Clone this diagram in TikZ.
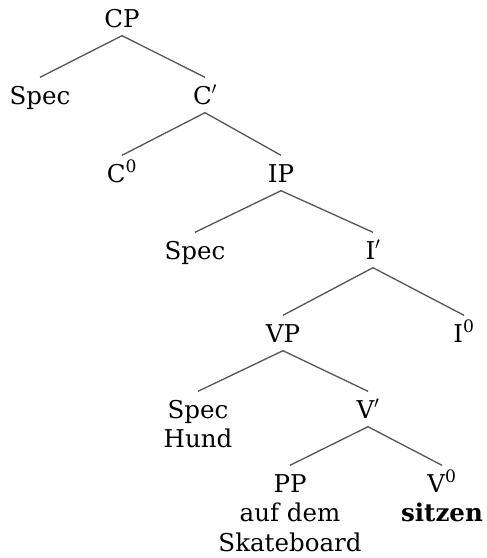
\documentclass[tikz,border=0pt]{standalone}
\usepackage{fontspec}
\setmainfont{DejaVu Serif}
\begin{document}
\begin{tikzpicture}[x=1pt,y=-1pt,
  tn/.style={anchor=base, inner xsep=0pt, inner ysep=8.5pt, text height=18pt, text depth=0pt,
    font=\fontsize{24.5}{29.5}\selectfont},
  edge/.style={draw={rgb,255:red,85;green,85;blue,85}, line width=1.3pt}]
\useasboundingbox (0,0) rectangle (487,558);
\node[tn] (cp) at (122,27) {CP};
\node[tn] (spec1) at (40,104) {Spec};
\node[tn] (cbar) at (205,104) {C$'$};
\node[tn] (c0) at (122,182) {C\textsuperscript{0}};
\node[tn] (ip) at (281,182) {IP};
\node[tn] (spec2) at (195,259) {Spec};
\node[tn] (ibar) at (373,259) {I$'$};
\node[tn] (vp) at (283,342) {VP};
\node[tn] (i0) at (464,342) {I\textsuperscript{0}};
\node[tn] (spec3) at (198,418) {\begin{tabular}[t]{@{}c@{}}Spec\\Hund\end{tabular}};
\node[tn] (vbar) at (368,418) {V$'$};
\node[tn] (pp) at (290,492) {\begin{tabular}[t]{@{}c@{}}PP\\auf dem\\Skateboard\end{tabular}};
\node[tn] (v0) at (442,492) {\begin{tabular}[t]{@{}c@{}}V\textsuperscript{0}\\\textbf{sitzen}\end{tabular}};
\draw[edge] (cp.south) -- (spec1.north);
\draw[edge] (cp.south) -- (cbar.north);
\draw[edge] (cbar.south) -- (c0.north);
\draw[edge] (cbar.south) -- (ip.north);
\draw[edge] (ip.south) -- (spec2.north);
\draw[edge] (ip.south) -- (ibar.north);
\draw[edge] (ibar.south) -- (vp.north);
\draw[edge] (ibar.south) -- (i0.north);
\draw[edge] (vp.south) -- (spec3.north);
\draw[edge] (vp.south) -- (vbar.north);
\draw[edge] (vbar.south) -- (pp.north);
\draw[edge] (vbar.south) -- (v0.north);
\end{tikzpicture}
\end{document}
